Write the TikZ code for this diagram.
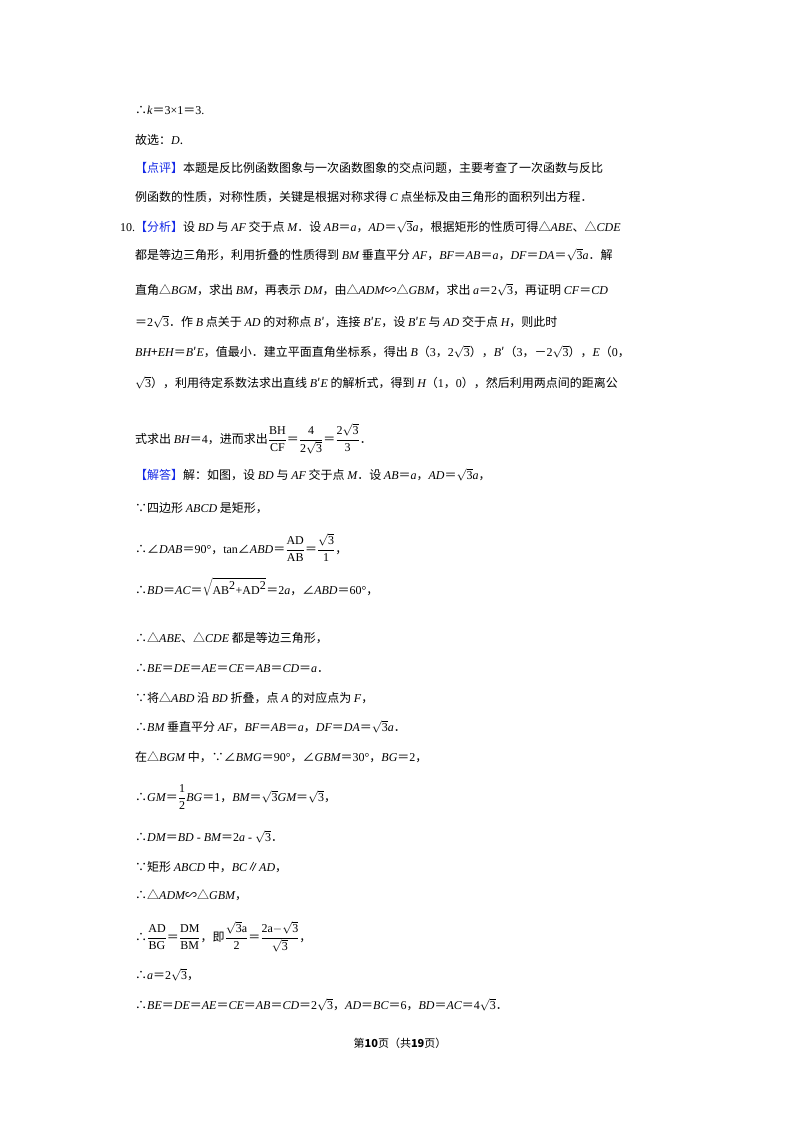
\documentclass[tikz,border=0pt]{standalone}
\usepackage{fontspec}
\setmainfont{Noto Sans CJK SC}
\newfontfamily\ser{Liberation Serif}
\newcommand\mi[1]{{\ser\itshape #1}}
\newcommand\sr[1]{{\ser #1}}
\newcommand\sq[1]{$\sqrt{\mbox{\ser #1}}$}
\newcommand\fr[2]{$\displaystyle\frac{\mbox{\ser #1}}{\mbox{\ser #2}}$}
\definecolor{tagblue}{RGB}{20,40,230}
\newcommand\tag[1]{\textcolor{tagblue}{【#1】}}
\begin{document}
\begin{tikzpicture}[x=1pt,y=-1pt,ln/.style={anchor=base west,inner sep=0pt,font=\fontsize{12}{14}\selectfont}]
\useasboundingbox[fill=white] (0,0) rectangle (800,1132);
\node[ln] (l1) at (135,114) {∴\mi{k}＝\sr{3×1}＝\sr{3.}};
\node[ln] (l2) at (135,144) {故选：\mi{D}.};
\node[ln] (l3) at (135,172) {\tag{点评}本题是反比例函数图象与一次函数图象的交点问题，主要考查了一次函数与反比};
\node[ln] (l4) at (135,201) {例函数的性质，对称性质，关键是根据对称求得 \mi{C} 点坐标及由三角形的面积列出方程．};
\node[ln] (l5) at (120,231) {\sr{10.}\tag{分析}设 \mi{BD} 与 \mi{AF} 交于点 \mi{M}．设 \mi{AB}＝\mi{a}，\mi{AD}＝\sq{3}\mi{a}，根据矩形的性质可得△\mi{ABE}、△\mi{CDE}};
\node[ln] (l6) at (135,259) {都是等边三角形，利用折叠的性质得到 \mi{BM} 垂直平分 \mi{AF}，\mi{BF}＝\mi{AB}＝\mi{a}，\mi{DF}＝\mi{DA}＝\sq{3}\mi{a}．解};
\node[ln] (l7) at (135,294) {直角△\mi{BGM}，求出 \mi{BM}，再表示 \mi{DM}，由△\mi{ADM}∽△\mi{GBM}，求出 \mi{a}＝\sr{2}\sq{3}，再证明 \mi{CF}＝\mi{CD}};
\node[ln] (l8) at (135,326) {＝\sr{2}\sq{3}．作 \mi{B} 点关于 \mi{AD} 的对称点 \mi{B}′，连接 \mi{B}′\mi{E}，设 \mi{B}′\mi{E} 与 \mi{AD} 交于点 \mi{H}，则此时};
\node[ln] (l9) at (135,356) {\mi{BH}+\mi{EH}＝\mi{B}′\mi{E}，值最小．建立平面直角坐标系，得出 \mi{B}（\sr{3}，\sr{2}\sq{3}），\mi{B}′（\sr{3}，－\sr{2}\sq{3}），\mi{E}（\sr{0}，};
\node[ln] (l10) at (135,387) {\sq{3}），利用待定系数法求出直线 \mi{B}′\mi{E} 的解析式，得到 \mi{H}（\sr{1}，\sr{0}），然后利用两点间的距离公};
\node[ln] (l11) at (135,443) {式求出 \mi{BH}＝\sr{4}，进而求出\fr{BH}{CF}＝$\displaystyle\frac{\mbox{\ser 4}}{\mbox{\ser 2}\sqrt{\mbox{\ser 3}}}$＝$\displaystyle\frac{\mbox{\ser 2}\sqrt{\mbox{\ser 3}}}{\mbox{\ser 3}}$．};
\node[ln] (l12) at (135,479) {\tag{解答}解：如图，设 \mi{BD} 与 \mi{AF} 交于点 \mi{M}．设 \mi{AB}＝\mi{a}，\mi{AD}＝\sq{3}\mi{a}，};
\node[ln] (l13) at (135,512) {∵四边形 \mi{ABCD} 是矩形，};
\node[ln] (l14) at (135,553) {∴∠\mi{DAB}＝\sr{90°}，\sr{tan}∠\mi{ABD}＝\fr{AD}{AB}＝$\displaystyle\frac{\sqrt{\mbox{\ser 3}}}{\mbox{\ser 1}}$，};
\node[ln] (l15) at (135,594) {∴\mi{BD}＝\mi{AC}＝$\sqrt{\mbox{\ser AB}^{\mbox{\ser 2}}\mbox{\ser +AD}^{\mbox{\ser 2}}}$＝\sr{2}\mi{a}，∠\mi{ABD}＝\sr{60°}，};
\node[ln] (l16) at (135,642) {∴△\mi{ABE}、△\mi{CDE} 都是等边三角形，};
\node[ln] (l17) at (135,672) {∴\mi{BE}＝\mi{DE}＝\mi{AE}＝\mi{CE}＝\mi{AB}＝\mi{CD}＝\mi{a}．};
\node[ln] (l18) at (135,702) {∵将△\mi{ABD} 沿 \mi{BD} 折叠，点 \mi{A} 的对应点为 \mi{F}，};
\node[ln] (l19) at (135,731) {∴\mi{BM} 垂直平分 \mi{AF}，\mi{BF}＝\mi{AB}＝\mi{a}，\mi{DF}＝\mi{DA}＝\sq{3}\mi{a}．};
\node[ln] (l20) at (135,761) {在△\mi{BGM} 中，∵∠\mi{BMG}＝\sr{90°}，∠\mi{GBM}＝\sr{30°}，\mi{BG}＝\sr{2}，};
\node[ln] (l21) at (135,801) {∴\mi{GM}＝\fr{1}{2}\mi{BG}＝\sr{1}，\mi{BM}＝\sq{3}\mi{GM}＝\sq{3}，};
\node[ln] (l22) at (135,841) {∴\mi{DM}＝\mi{BD}\sr{ - }\mi{BM}＝\sr{2}\mi{a}\sr{ - }\sq{3}．};
\node[ln] (l23) at (135,871) {∵矩形 \mi{ABCD} 中，\mi{BC}∥\mi{AD}，};
\node[ln] (l24) at (135,899) {∴△\mi{ADM}∽△\mi{GBM}，};
\node[ln] (l25) at (135,941) {∴\fr{AD}{BG}＝\fr{DM}{BM}，即$\displaystyle\frac{\sqrt{\mbox{\ser 3}}\mbox{\ser a}}{\mbox{\ser 2}}$＝$\displaystyle\frac{\mbox{\ser 2a$-$}\sqrt{\mbox{\ser 3}}}{\sqrt{\mbox{\ser 3}}}$，};
\node[ln] (l26) at (135,979) {∴\mi{a}＝\sr{2}\sq{3}，};
\node[ln] (l27) at (135,1009) {∴\mi{BE}＝\mi{DE}＝\mi{AE}＝\mi{CE}＝\mi{AB}＝\mi{CD}＝\sr{2}\sq{3}，\mi{AD}＝\mi{BC}＝\sr{6}，\mi{BD}＝\mi{AC}＝\sr{4}\sq{3}．};
\node[anchor=base,inner sep=0pt,font=\fontsize{11}{13}\selectfont] (ft) at (400,1047) {第\textbf{10}页（共\textbf{19}页）};
\end{tikzpicture}
\end{document}
